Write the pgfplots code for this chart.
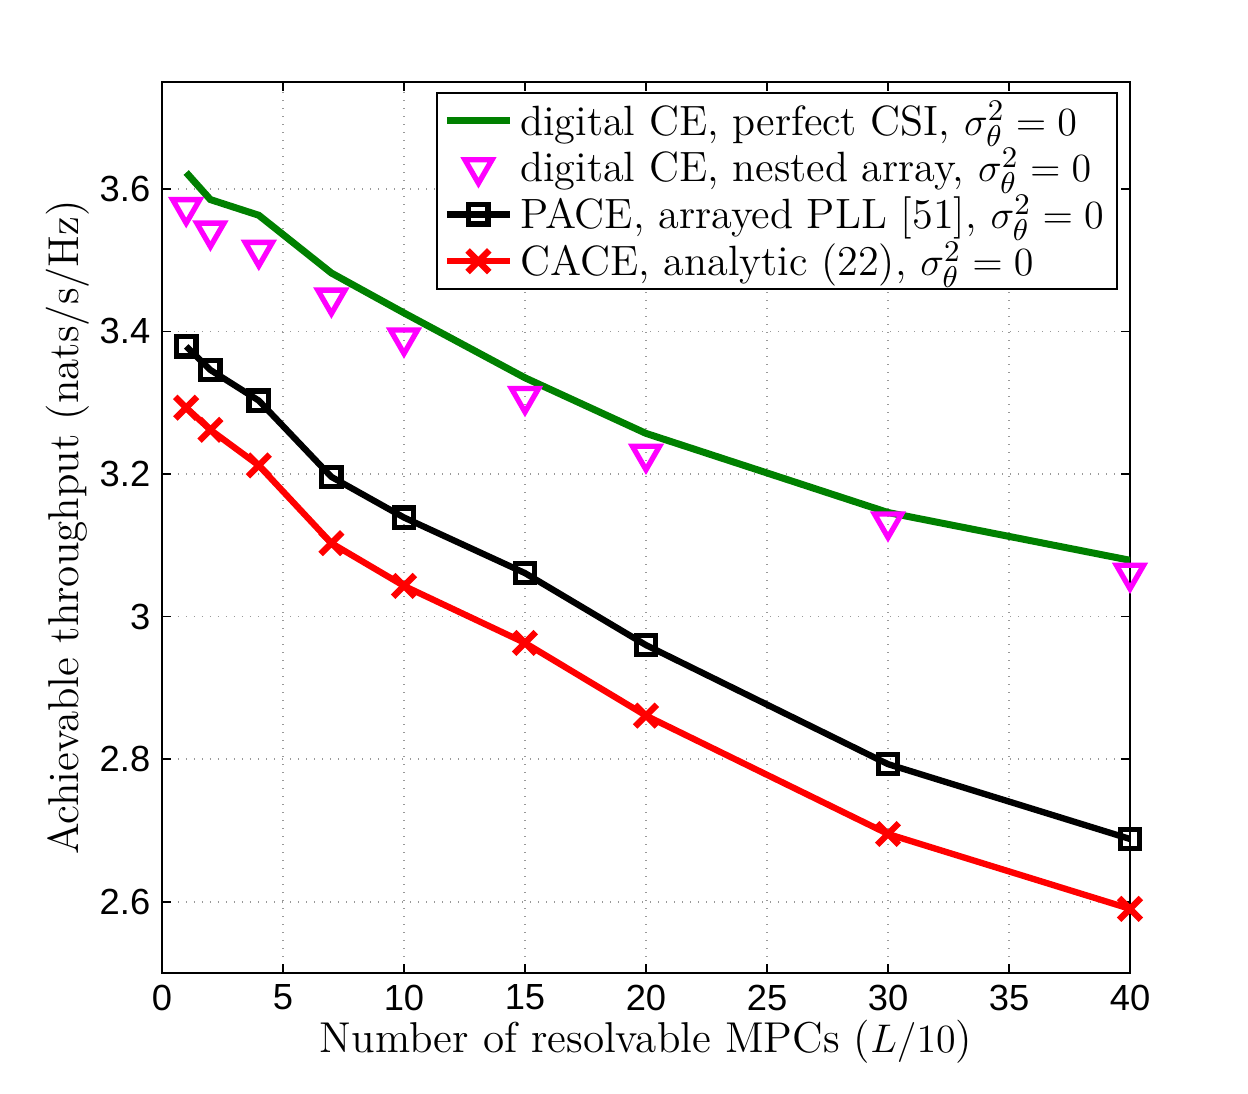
\documentclass[border=0pt]{standalone}
\usepackage{fontspec}
\usepackage{pgfplots}
\pgfplotsset{compat=1.18}
\newfontfamily\tickfont{Liberation Sans}
\definecolor{mgreen}{rgb}{0,0.5,0}
\definecolor{mmag}{rgb}{1,0,1}
\begin{document}
\begin{tikzpicture}
\path[use as bounding box] (-48.6pt,-36.3pt) rectangle (325.8pt,291.9pt);
\begin{axis}[
 at={(0,0)}, anchor=south west,
 scale only axis, width=290.4pt, height=267.3pt,
 xmin=0, xmax=40, ymin=2.5, ymax=3.75,
 xtick={0,5,10,15,20,25,30,35,40},
 ytick={2.6,2.8,3,3.2,3.4,3.6},
 grid=major,
 major grid style={dotted, gray!80, line width=0.5pt},
 axis line style={line width=0.6pt},
 tick style={black, line width=0.5pt},
 major tick length=2.7pt,
 tick label style={font=\fontsize{10.9}{12}\tickfont},
 /pgf/number format/assume math mode=true,
 xlabel={Number of resolvable MPCs ($L/10$)},
 ylabel={Achievable throughput (nats/s/Hz)},
 label style={font=\fontsize{12.95}{15}\selectfont},
 xlabel style={yshift=4.1pt},
 ylabel style={yshift=-3.9pt},
 legend style={at={(0.9876,0.9888)}, anchor=north east,
   font=\fontsize{12.7}{14.3}\selectfont, draw=black, line width=0.6pt,
   inner xsep=2pt, inner ysep=0.5pt, row sep=-1.6pt},
 legend cell align=left,
 legend image code/.code={\draw[mark repeat=2,mark phase=2] plot coordinates {(0pt,0pt) (9.5pt,0pt) (19pt,0pt)};},
]
\addplot[mgreen, line width=2.1pt, no marks] coordinates {
(1,3.623) (2,3.585) (4,3.563) (7,3.482) (10,3.426) (15,3.335) (20,3.257) (30,3.146) (40,3.079)};
\addlegendentry{digital CE, perfect CSI, $\sigma_\theta^2=0$}
\addplot[mmag, only marks, mark=triangle, mark size=4.7pt, mark options={rotate=180, line width=1.6pt}] coordinates {
(1,3.574) (2,3.541) (4,3.514) (7,3.447) (10,3.391) (15,3.309) (20,3.228) (30,3.133) (40,3.061)};
\addlegendentry{digital CE, nested array, $\sigma_\theta^2=0$}
\addplot[black, line width=1.9pt, mark=square, mark size=2.9pt, mark options={line width=1.6pt}] coordinates {
(1,3.379) (2,3.346) (4,3.303) (7,3.196) (10,3.139) (15,3.061) (20,2.960) (30,2.793) (40,2.688)};
\addlegendentry{PACE, arrayed PLL [51], $\sigma_\theta^2=0$}
\addplot[red, line width=1.9pt, mark=x, mark size=4.6pt, mark options={line width=1.9pt}] coordinates {
(1,3.293) (2,3.262) (4,3.212) (7,3.103) (10,3.043) (15,2.963) (20,2.861) (30,2.695) (40,2.590)};
\addlegendentry{CACE, analytic (22), $\sigma_\theta^2=0$}
\end{axis}
\end{tikzpicture}
\end{document}
